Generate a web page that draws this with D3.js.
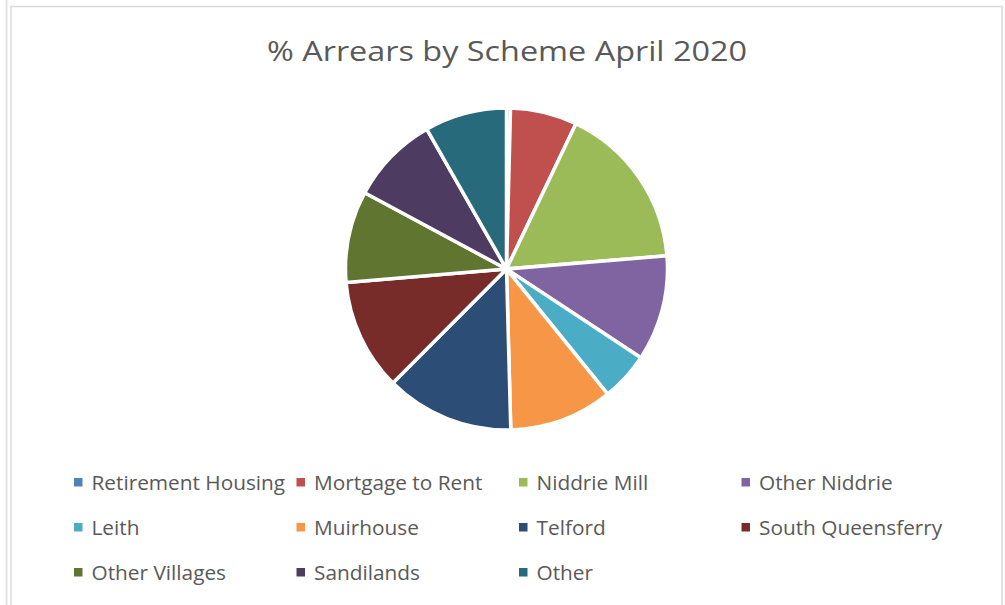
<!DOCTYPE html>
<html>
<head>
<meta charset="utf-8">
<script src="https://cdn.jsdelivr.net/npm/d3@7"></script>
<style>
  html, body { margin: 0; padding: 0; background: #fff; }
  svg { display: block; }
  text { font-family: "Open Sans", "Noto Sans", sans-serif; fill: #595959; }
</style>
</head>
<body>
<svg id="chart" width="1005" height="605"></svg>
<script>
// data (share of arrears, %)
var schemes = ["Retirement Housing", "Mortgage to Rent", "Niddrie Mill", "Other Niddrie",
  "Leith", "Muirhouse", "Telford", "South Queensferry", "Other Villages", "Sandilands", "Other"];
var shares = [0.4, 6.7, 16.6, 10.6, 4.9, 10.4, 12.9, 11.2, 9.2, 8.9, 8.25];
var colors = ["#4F81BD", "#C0504D", "#9BBB59", "#8064A2", "#4BACC6", "#F79646",
  "#2C4D75", "#772C2A", "#5F7530", "#4D3B62", "#276A7C"];
var title = "% Arrears by Scheme April 2020";

var svg = d3.select("#chart");

// outer sheet line + chart frame
svg.append("line")
  .attr("x1", 6.5).attr("x2", 6.5).attr("y1", 0).attr("y2", 605)
  .attr("stroke", "#e3e3e3").attr("stroke-width", 2);
svg.append("rect")
  .attr("x", 11).attr("y", 6.5).attr("width", 991).attr("height", 610)
  .attr("fill", "#fff").attr("stroke", "#d9d9d9").attr("stroke-width", 1.5);

svg.append("text")
  .attr("x", 507).attr("y", 61)
  .attr("text-anchor", "middle")
  .style("font-size", "28px")
  .attr("textLength", 480).attr("lengthAdjust", "spacingAndGlyphs")
  .text(title);

var data = schemes.map(function(d, i) { return { name: d, value: shares[i], color: colors[i] }; });

var pie = d3.pie().sort(null).value(function(d) { return d.value; });
var arc = d3.arc().innerRadius(0).outerRadius(161);

var g = svg.append("g").attr("transform", "translate(506.5,269)");
g.selectAll("path")
  .data(pie(data))
  .enter()
  .append("path")
  .attr("d", arc)
  .attr("fill", function(d) { return d.data.color; })
  .attr("stroke", "#fff")
  .attr("stroke-width", 3.5)
  .attr("stroke-linejoin", "round");

// legend, 4 columns
var colX = d3.scaleLinear().domain([0, 1]).range([74, 296.5]);
var rowY = d3.scaleLinear().domain([0, 1]).range([490, 535]);

var items = svg.selectAll(".legend")
  .data(data)
  .enter()
  .append("g")
  .attr("class", "legend")
  .attr("transform", function(d, i) { return "translate(" + colX(i % 4) + "," + rowY(Math.floor(i / 4)) + ")"; });

items.append("rect")
  .attr("x", 0).attr("y", -12)
  .attr("width", 8.5).attr("height", 8.5)
  .attr("fill", function(d) { return d.color; });

items.append("text")
  .attr("x", 17.5).attr("y", 0)
  .style("font-size", "20.8px")
  .text(function(d) { return d.name; });
</script>
</body>
</html>
